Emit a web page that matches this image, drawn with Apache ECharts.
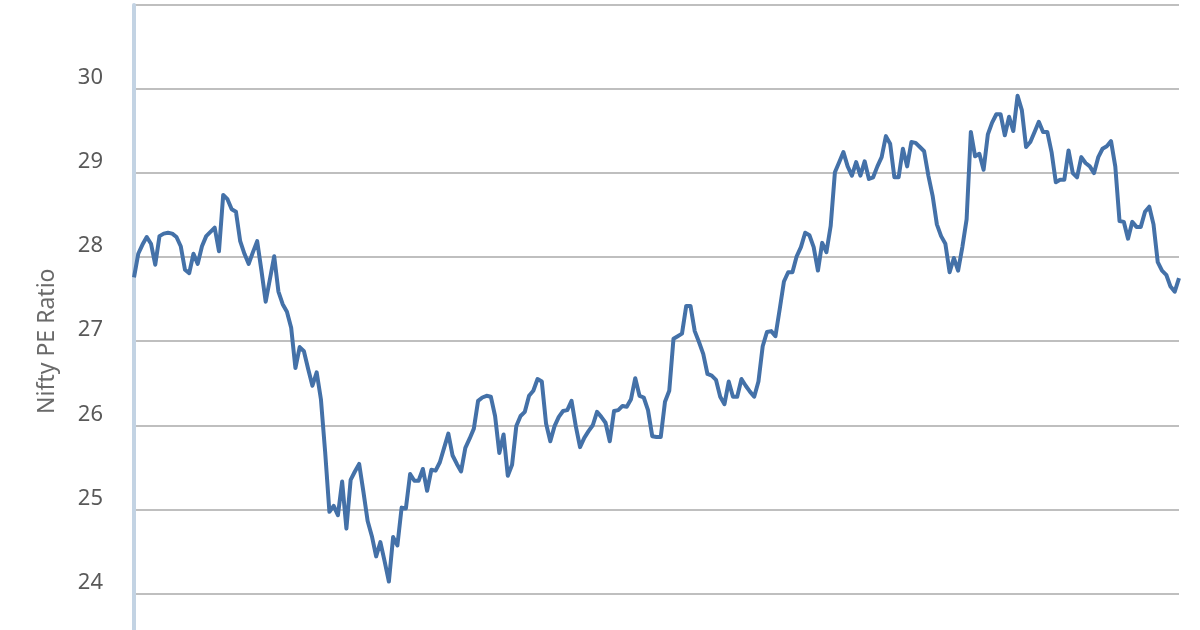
<!DOCTYPE html>
<html lang="en" style="height: 100%">
<head>
  <meta charset="UTF-8">
  <title>Nifty PE Ratio</title>
  <script src="https://cdn.jsdelivr.net/npm/echarts@6.0.0/dist/echarts.min.js"></script>
</head>
<body style="height: 100%; margin: 0; background: #fff; overflow: hidden">
  <!-- taller than the window: the bottom of the chart is cut off like in the original -->
  <div id="container" style="width: 1200px; height: 680px"></div>
  <script>
    // Nifty PE ratio, one value per period
    var peValues = [
      27.76, 28.04, 28.15, 28.24, 28.16, 27.91, 28.25, 28.28, 28.29, 28.28,
      28.24, 28.13, 27.85, 27.81, 28.04, 27.92, 28.13, 28.25, 28.30, 28.35,
      28.07, 28.74, 28.69, 28.57, 28.54, 28.19, 28.04, 27.92, 28.06, 28.19,
      27.84, 27.47, 27.74, 28.01, 27.59, 27.44, 27.35, 27.16, 26.68, 26.93,
      26.88, 26.67, 26.47, 26.63, 26.31, 25.68, 24.97, 25.04, 24.93, 25.33,
      24.77, 25.35, 25.45, 25.54, 25.21, 24.86, 24.68, 24.44, 24.61, 24.38,
      24.14, 24.67, 24.57, 25.02, 25.01, 25.42, 25.34, 25.34, 25.48, 25.22,
      25.47, 25.46, 25.56, 25.73, 25.90, 25.64, 25.54, 25.45, 25.73, 25.84,
      25.96, 26.29, 26.33, 26.35, 26.34, 26.11, 25.67, 25.89, 25.40, 25.53,
      25.99, 26.11, 26.16, 26.35, 26.41, 26.55, 26.52, 26.02, 25.81, 25.99,
      26.10, 26.17, 26.18, 26.29, 25.99, 25.74, 25.85, 25.93, 26.00, 26.16,
      26.10, 26.03, 25.81, 26.17, 26.18, 26.23, 26.22, 26.31, 26.56, 26.35,
      26.33, 26.18, 25.87, 25.86, 25.86, 26.28, 26.41, 27.03, 27.06, 27.09,
      27.42, 27.42, 27.12, 26.99, 26.85, 26.61, 26.59, 26.54, 26.34, 26.25,
      26.52, 26.34, 26.34, 26.55, 26.47, 26.40, 26.34, 26.52, 26.94, 27.11,
      27.12, 27.06, 27.38, 27.71, 27.82, 27.82, 28.01, 28.12, 28.29, 28.26,
      28.12, 27.84, 28.17, 28.06, 28.37, 29.01, 29.13, 29.25, 29.08, 28.97,
      29.13, 28.97, 29.14, 28.93, 28.95, 29.08, 29.19, 29.44, 29.35, 28.95,
      28.95, 29.29, 29.08, 29.37, 29.36, 29.31, 29.26, 28.97, 28.73, 28.39,
      28.25, 28.16, 27.82, 27.99, 27.84, 28.12, 28.45, 29.49, 29.20, 29.23,
      29.04, 29.46, 29.60, 29.70, 29.70, 29.45, 29.67, 29.50, 29.92, 29.75,
      29.31, 29.37, 29.49, 29.61, 29.49, 29.49, 29.25, 28.89, 28.92, 28.92,
      29.27, 29.00, 28.95, 29.19, 29.12, 29.08, 29.00, 29.19, 29.29, 29.32,
      29.38, 29.08, 28.43, 28.42, 28.22, 28.42, 28.36, 28.36, 28.54, 28.60,
      28.39, 27.94, 27.84, 27.79, 27.65, 27.59, 27.75
    ];
    var periods = peValues.map(function (v, i) { return String(i + 1); });

    var yMin = 23, yMax = 31;
    var hiddenTicks = [23, 31]; // these sit off the visible part of the chart

    var chart = echarts.init(document.getElementById('container'));

    var option = {
      animation: false,
      grid: {
        left: 134,
        right: 21,
        top: 5,
        bottom: 2.6
      },
      xAxis: {
        type: 'category',
        data: periods,
        boundaryGap: false,
        show: false
      },
      yAxis: {
        type: 'value',
        min: yMin,
        max: yMax,
        interval: 1,
        name: 'Nifty PE Ratio',
        nameLocation: 'middle',
        nameGap: 75,
        nameTextStyle: {
          fontFamily: 'Noto Sans',
          fontSize: 23,
          color: '#6a6a6a'
        },
        axisLine: {
          show: true,
          lineStyle: { color: '#c3d3e3', width: 4 }
        },
        axisTick: { show: false },
        axisLabel: {
          margin: 31,
          fontFamily: 'Noto Sans',
          fontSize: 22,
          color: '#595959',
          verticalAlign: 'bottom',
          formatter: function (v) {
            return hiddenTicks.indexOf(v) >= 0 ? '' : String(v);
          }
        },
        splitLine: {
          lineStyle: { color: '#bfbfbf', width: 2 }
        }
      },
      series: [
        {
          name: 'Nifty PE',
          type: 'line',
          data: peValues,
          showSymbol: false,
          symbol: 'none',
          lineStyle: { color: '#4471a8', width: 4, join: 'round' }
        }
      ]
    };
    chart.setOption(option);
  </script>
</body>
</html>
